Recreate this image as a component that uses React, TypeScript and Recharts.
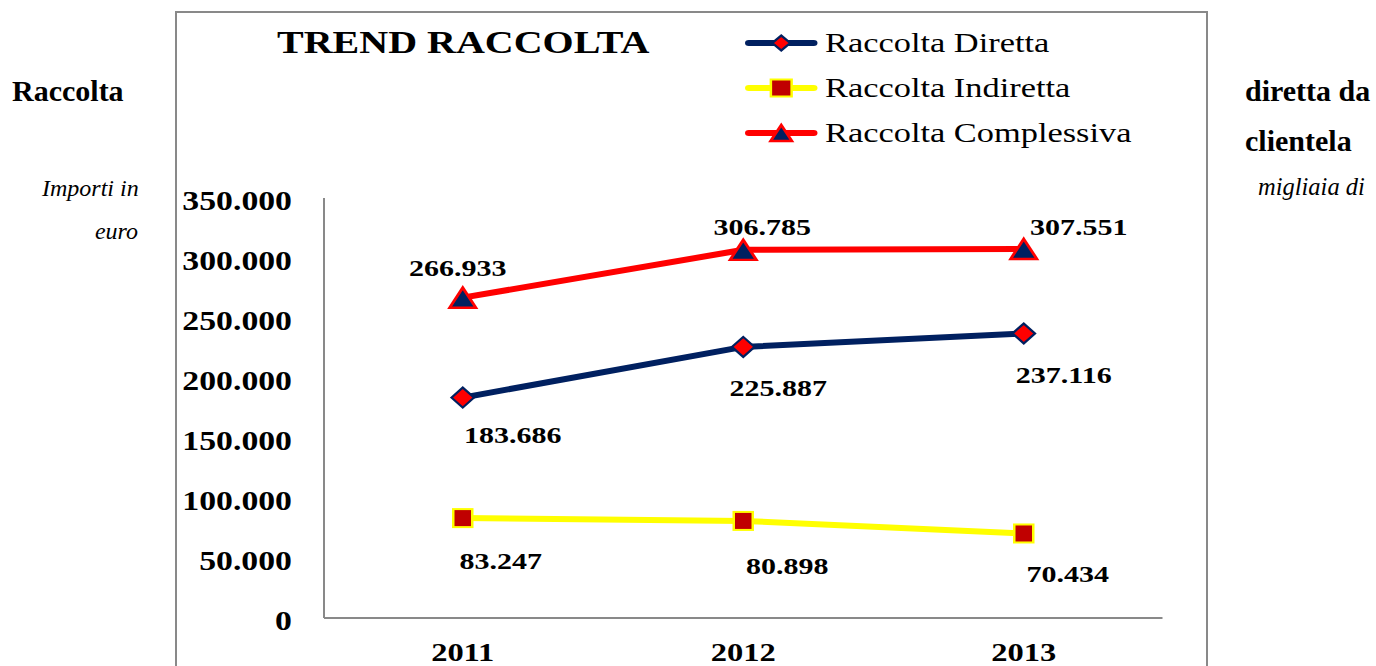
import React from 'react';
import { LineChart, Line, XAxis, YAxis, Legend, LabelList } from 'recharts';

const years = ['2011', '2012', '2013'];
const diretta = [183686, 225887, 237116];
const indiretta = [83247, 80898, 70434];
const complessiva = [266933, 306785, 307551];
const yTicks = [0, 50000, 100000, 150000, 200000, 250000, 300000, 350000];
const seriesNames = ['Raccolta Diretta', 'Raccolta Indiretta', 'Raccolta Complessiva'];

// label offsets (page px): [dx of text centre, dy of baseline] from the point
const offDiretta = [[50, 45], [35, 49], [40, 50]];
const offIndiretta = [[38, 51], [44, 53], [44, 49]];
const offComplessiva = [[-5, -22], [19, -15], [55, -14]];

const data = years.map((y, i) => ({
  year: y,
  diretta: diretta[i],
  indiretta: indiretta[i],
  complessiva: complessiva[i],
}));

const S = 1.25;
const FONT = '"Liberation Serif", "Times New Roman", Times, serif';
const NAVY = '#002060';
const RED = '#FF0000';
const YELLOW = '#FFFF00';
const DARKRED = '#C00000';
const GRAY = '#898989';

const fmt = (v: number) => String(v).replace(/\B(?=(\d{3})+(?!\d))/g, '.');

const Diamond = ({ cx, cy, hw, hh }: any) => (
  <path
    d={`M${cx - hw},${cy} L${cx},${cy - hh} L${cx + hw},${cy} L${cx},${cy + hh} Z`}
    fill={RED}
    stroke={NAVY}
    strokeWidth={2}
  />
);
const Square = ({ cx, cy, hw, hh }: any) => (
  <rect x={cx - hw} y={cy - hh} width={hw * 2} height={hh * 2} fill={DARKRED} stroke={YELLOW} strokeWidth={2} />
);
const Triangle = ({ cx, cy, hw, hh }: any) => (
  <path
    d={`M${cx},${cy - hh} L${cx + hw},${cy + hh} L${cx - hw},${cy + hh} Z`}
    fill={NAVY}
    stroke={RED}
    strokeWidth={2.4}
    strokeLinejoin="miter"
  />
);

const makeLabel = (arr: number[], offs: number[][]) => (p: any) => {
  const vx = p.x ?? p.viewBox?.x;
  const vy = p.y ?? p.viewBox?.y;
  let i = typeof p.index === 'number' ? p.index : arr.indexOf(Number(p.value));
  if (i < 0) i = 0;
  const [dx, dy] = offs[i];
  return (
    <text
      key={`lbl-${i}`}
      x={vx + dx / S}
      y={vy + dy}
      textAnchor="middle"
      fontFamily={FONT}
      fontWeight="bold"
      fontSize={24}
      fill="#000"
    >
      {fmt(Number(p.value))}
    </text>
  );
};

const XTick = (p: any) => (
  <text
    x={p.x}
    y={p.y + 43}
    textAnchor="middle"
    fontFamily={FONT}
    fontWeight="bold"
    fontSize={26}
    fill="#000"
  >
    {p.payload.value}
  </text>
);

const YTick = (p: any) => (
  <text
    x={p.x - 25.6}
    y={p.y + 12}
    textAnchor="end"
    fontFamily={FONT}
    fontWeight="bold"
    fontSize={27}
    fill="#000"
  >
    {fmt(p.payload.value)}
  </text>
);

const legendIcon = (i: number) => {
  const color = i === 0 ? NAVY : i === 1 ? YELLOW : RED;
  return (
    <svg width={58} height={24} style={{ overflow: 'visible', display: 'block' }}>
      <line x1={3} y1={12} x2={55} y2={12} stroke={color} strokeWidth={6} strokeLinecap="round" />
      {i === 0 && <Diamond cx={29} cy={12} hw={7.2} hh={7.5} />}
      {i === 1 && <Square cx={29} cy={12} hw={8.3} hh={8.5} />}
      {i === 2 && <Triangle cx={29} cy={12} hw={8.5} hh={8} />}
    </svg>
  );
};

const renderLegend = () => (
  <div style={{ fontFamily: FONT, fontSize: 27.5, color: '#000' }}>
    {seriesNames.map((n, i) => (
      <div key={n} style={{ height: 45, display: 'flex', alignItems: 'center', whiteSpace: 'nowrap' }}>
        {legendIcon(i)}
        <span style={{ marginLeft: 6 }}>{n}</span>
      </div>
    ))}
  </div>
);

export default function App() {
  return (
    <div
      style={{
        position: 'absolute',
        left: 0,
        top: 0,
        width: 1376,
        height: 666,
        overflow: 'hidden',
        background: '#fff',
        fontFamily: FONT,
        color: '#000',
      }}
    >
      {/* surrounding document text */}
      <div style={{ position: 'absolute', left: 12, top: 74, fontSize: 30, fontWeight: 'bold', lineHeight: '34px', whiteSpace: 'nowrap' }}>
        Raccolta
      </div>
      <div style={{ position: 'absolute', left: 1245, top: 74, fontSize: 30, fontWeight: 'bold', lineHeight: '34px', whiteSpace: 'nowrap' }}>
        diretta da
      </div>
      <div style={{ position: 'absolute', left: 1245, top: 124, fontSize: 30, fontWeight: 'bold', lineHeight: '34px', whiteSpace: 'nowrap' }}>
        clientela
      </div>
      <div style={{ position: 'absolute', left: 42, top: 174, fontSize: 24, fontStyle: 'italic', lineHeight: '28px', whiteSpace: 'nowrap' }}>
        Importi in
      </div>
      <div style={{ position: 'absolute', right: 1376 - 138, top: 217, fontSize: 24, fontStyle: 'italic', lineHeight: '28px', whiteSpace: 'nowrap' }}>
        euro
      </div>
      <div style={{ position: 'absolute', left: 1258, top: 173, fontSize: 24.5, fontStyle: 'italic', lineHeight: '28px', whiteSpace: 'nowrap' }}>
        migliaia di
      </div>

      {/* chart frame */}
      <div
        style={{
          position: 'absolute',
          left: 175,
          top: 11,
          width: 1033,
          height: 720,
          border: `2px solid ${GRAY}`,
          boxSizing: 'border-box',
        }}
      />

      {/* horizontally stretched chart */}
      <div
        style={{
          position: 'absolute',
          left: 0,
          top: 0,
          width: 966,
          height: 666,
          transform: `scaleX(${S})`,
          transformOrigin: '0 0',
        }}
      >
        <div
          style={{
            position: 'absolute',
            left: 221.6,
            top: 26,
            fontSize: 32,
            fontWeight: 'bold',
            lineHeight: '32px',
            whiteSpace: 'nowrap',
            zIndex: 2,
          }}
        >
          TREND RACCOLTA
        </div>
        <LineChart width={966} height={666} data={data} margin={{ top: 198, right: 36, bottom: 0, left: 0 }}>
          <XAxis
            dataKey="year"
            padding={{ left: 111, right: 111 }}
            axisLine={{ stroke: GRAY, strokeWidth: 2 }}
            tickLine={false}
            tickSize={0}
            tickMargin={0}
            height={48}
            interval={0}
            tick={XTick}
          />
          <YAxis
            type="number"
            domain={[0, 350000]}
            ticks={yTicks}
            interval={0}
            width={259.2}
            axisLine={{ stroke: GRAY, strokeWidth: 1.6 }}
            tickLine={false}
            tickSize={0}
            tickMargin={0}
            tick={YTick}
          />
          <Legend
            layout="vertical"
            align="center"
            verticalAlign="middle"
            wrapperStyle={{ position: 'absolute', left: 596, top: 20.5, width: 'auto', height: 'auto' }}
            content={renderLegend}
          />
          <Line
            type="linear"
            dataKey="indiretta"
            name={seriesNames[1]}
            stroke={YELLOW}
            strokeWidth={6}
            isAnimationActive={false}
            activeDot={false}
            dot={(p: any) => <Square key={`sq-${p.index}`} cx={p.cx} cy={p.cy} hw={7.6} hh={9} />}
          >
            <LabelList dataKey="indiretta" content={makeLabel(indiretta, offIndiretta)} />
          </Line>
          <Line
            type="linear"
            dataKey="diretta"
            name={seriesNames[0]}
            stroke={NAVY}
            strokeWidth={6}
            isAnimationActive={false}
            activeDot={false}
            dot={(p: any) => <Diamond key={`dm-${p.index}`} cx={p.cx} cy={p.cy} hw={9} hh={10} />}
          >
            <LabelList dataKey="diretta" content={makeLabel(diretta, offDiretta)} />
          </Line>
          <Line
            type="linear"
            dataKey="complessiva"
            name={seriesNames[2]}
            stroke={RED}
            strokeWidth={6}
            isAnimationActive={false}
            activeDot={false}
            dot={(p: any) => <Triangle key={`tr-${p.index}`} cx={p.cx} cy={p.cy} hw={10.5} hh={10} />}
          >
            <LabelList dataKey="complessiva" content={makeLabel(complessiva, offComplessiva)} />
          </Line>
        </LineChart>
      </div>
    </div>
  );
}
